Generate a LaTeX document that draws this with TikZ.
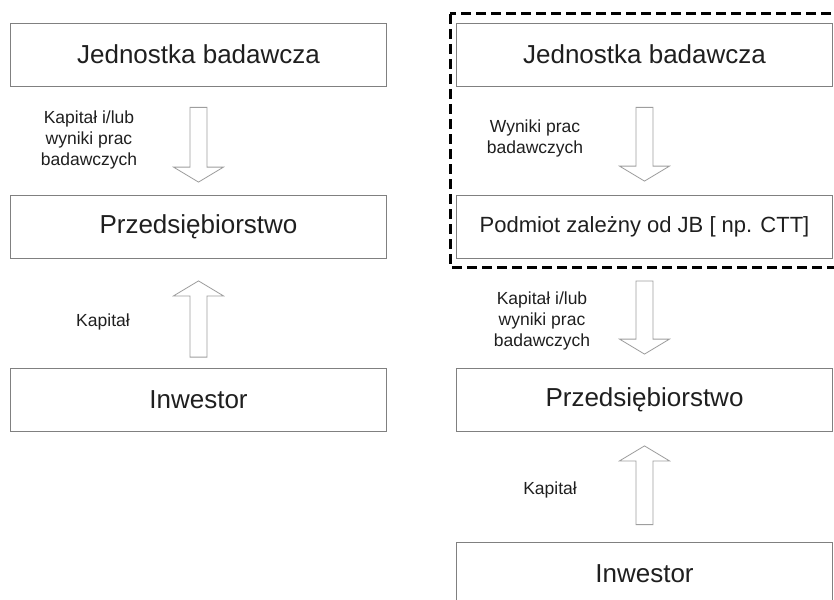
\documentclass[tikz,border=0pt]{standalone}
\usepackage{fontspec}
\setmainfont{Liberation Sans}
\usetikzlibrary{calc}

\definecolor{ramka}{gray}{0.5}
\definecolor{szarystrz}{gray}{0.62}
\definecolor{tekst}{gray}{0.12}

\tikzset{
  blok/.style={draw=ramka, line width=0.8pt, minimum width=376pt, minimum height=63pt,
    inner sep=0pt, text=tekst, font=\fontsize{26}{30}\selectfont},
  etykieta/.style={align=center, text=tekst, font=\fontsize{17.5}{21}\selectfont},
  blokstrz/.style={draw=szarystrz, line width=0.8pt, fill=white},
  obszar/.style={draw=black, line width=3pt, dash pattern=on 10pt off 5pt},
}

% pusta strzalka blokowa: #1 poczatek, #2 grot
\newcommand{\pustastrzalka}[2]{%
  \draw[blokstrz] let \p1=(#1), \p2=(#2), \p3=($(#2)!15pt!(#1)$) in
    (\x1-8.5pt,\y1) -- (\x1-8.5pt,\y3) -- (\x1-25pt,\y3) -- (\x2,\y2)
    -- (\x1+25pt,\y3) -- (\x1+8.5pt,\y3) -- (\x1+8.5pt,\y1) -- cycle;}

\begin{document}
\begin{tikzpicture}[x=1pt, y=-1pt]
  \useasboundingbox (0, 0) rectangle (834, 599);

  % lewy schemat
  \node[blok] (jb1) at (198.5, 54.5) {Jednostka badawcza};
  \node[blok] (prz1) at (198.5, 227) {Przedsiębiorstwo};
  \node[blok] (inw1) at (198.5, 400) {Inwestor};

  \coordinate (a1s) at ($(jb1.south)+(0, 21)$);
  \coordinate (a1k) at ($(prz1.north)-(0, 13)$);
  \coordinate (a2s) at ($(inw1.north)-(0, 11)$);
  \coordinate (a2k) at ($(prz1.south)+(0, 22)$);
  \pustastrzalka{a1s}{a1k}
  \pustastrzalka{a2s}{a2k}

  \node[etykieta] (l1) at (89, 140) {Kapitał i/lub\\wyniki prac\\badawczych};
  \node[etykieta] (l2) at (103, 322) {Kapitał};

  % prawy schemat
  \draw[obszar] (450, 14) rectangle (845, 267);

  \node[blok] (jb2) at (644.5, 54.5) {Jednostka badawcza};
  \node[blok, font=\fontsize{22}{26}\selectfont] (pod) at (644.5, 227) {Podmiot zależny od JB [ np. CTT]};
  \node[blok] (prz2) at (644.5, 400) {Przedsiębiorstwo};
  \node[blok] (inw2) at (644.5, 573.5) {Inwestor};

  \coordinate (a3s) at ($(jb2.south)+(0, 21)$);
  \coordinate (a3k) at ($(pod.north)-(0, 14)$);
  \coordinate (a4s) at ($(pod.south)+(0, 22)$);
  \coordinate (a4k) at ($(prz2.north)-(0, 14)$);
  \coordinate (a5s) at ($(inw2.north)-(0, 17)$);
  \coordinate (a5k) at ($(prz2.south)+(0, 14)$);
  \pustastrzalka{a3s}{a3k}
  \pustastrzalka{a4s}{a4k}
  \pustastrzalka{a5s}{a5k}

  \node[etykieta] (l3) at (535, 138) {Wyniki prac\\badawczych};
  \node[etykieta] (l4) at (542, 321) {Kapitał i/lub\\wyniki prac\\badawczych};
  \node[etykieta] (l5) at (550, 490) {Kapitał};
\end{tikzpicture}
\end{document}
